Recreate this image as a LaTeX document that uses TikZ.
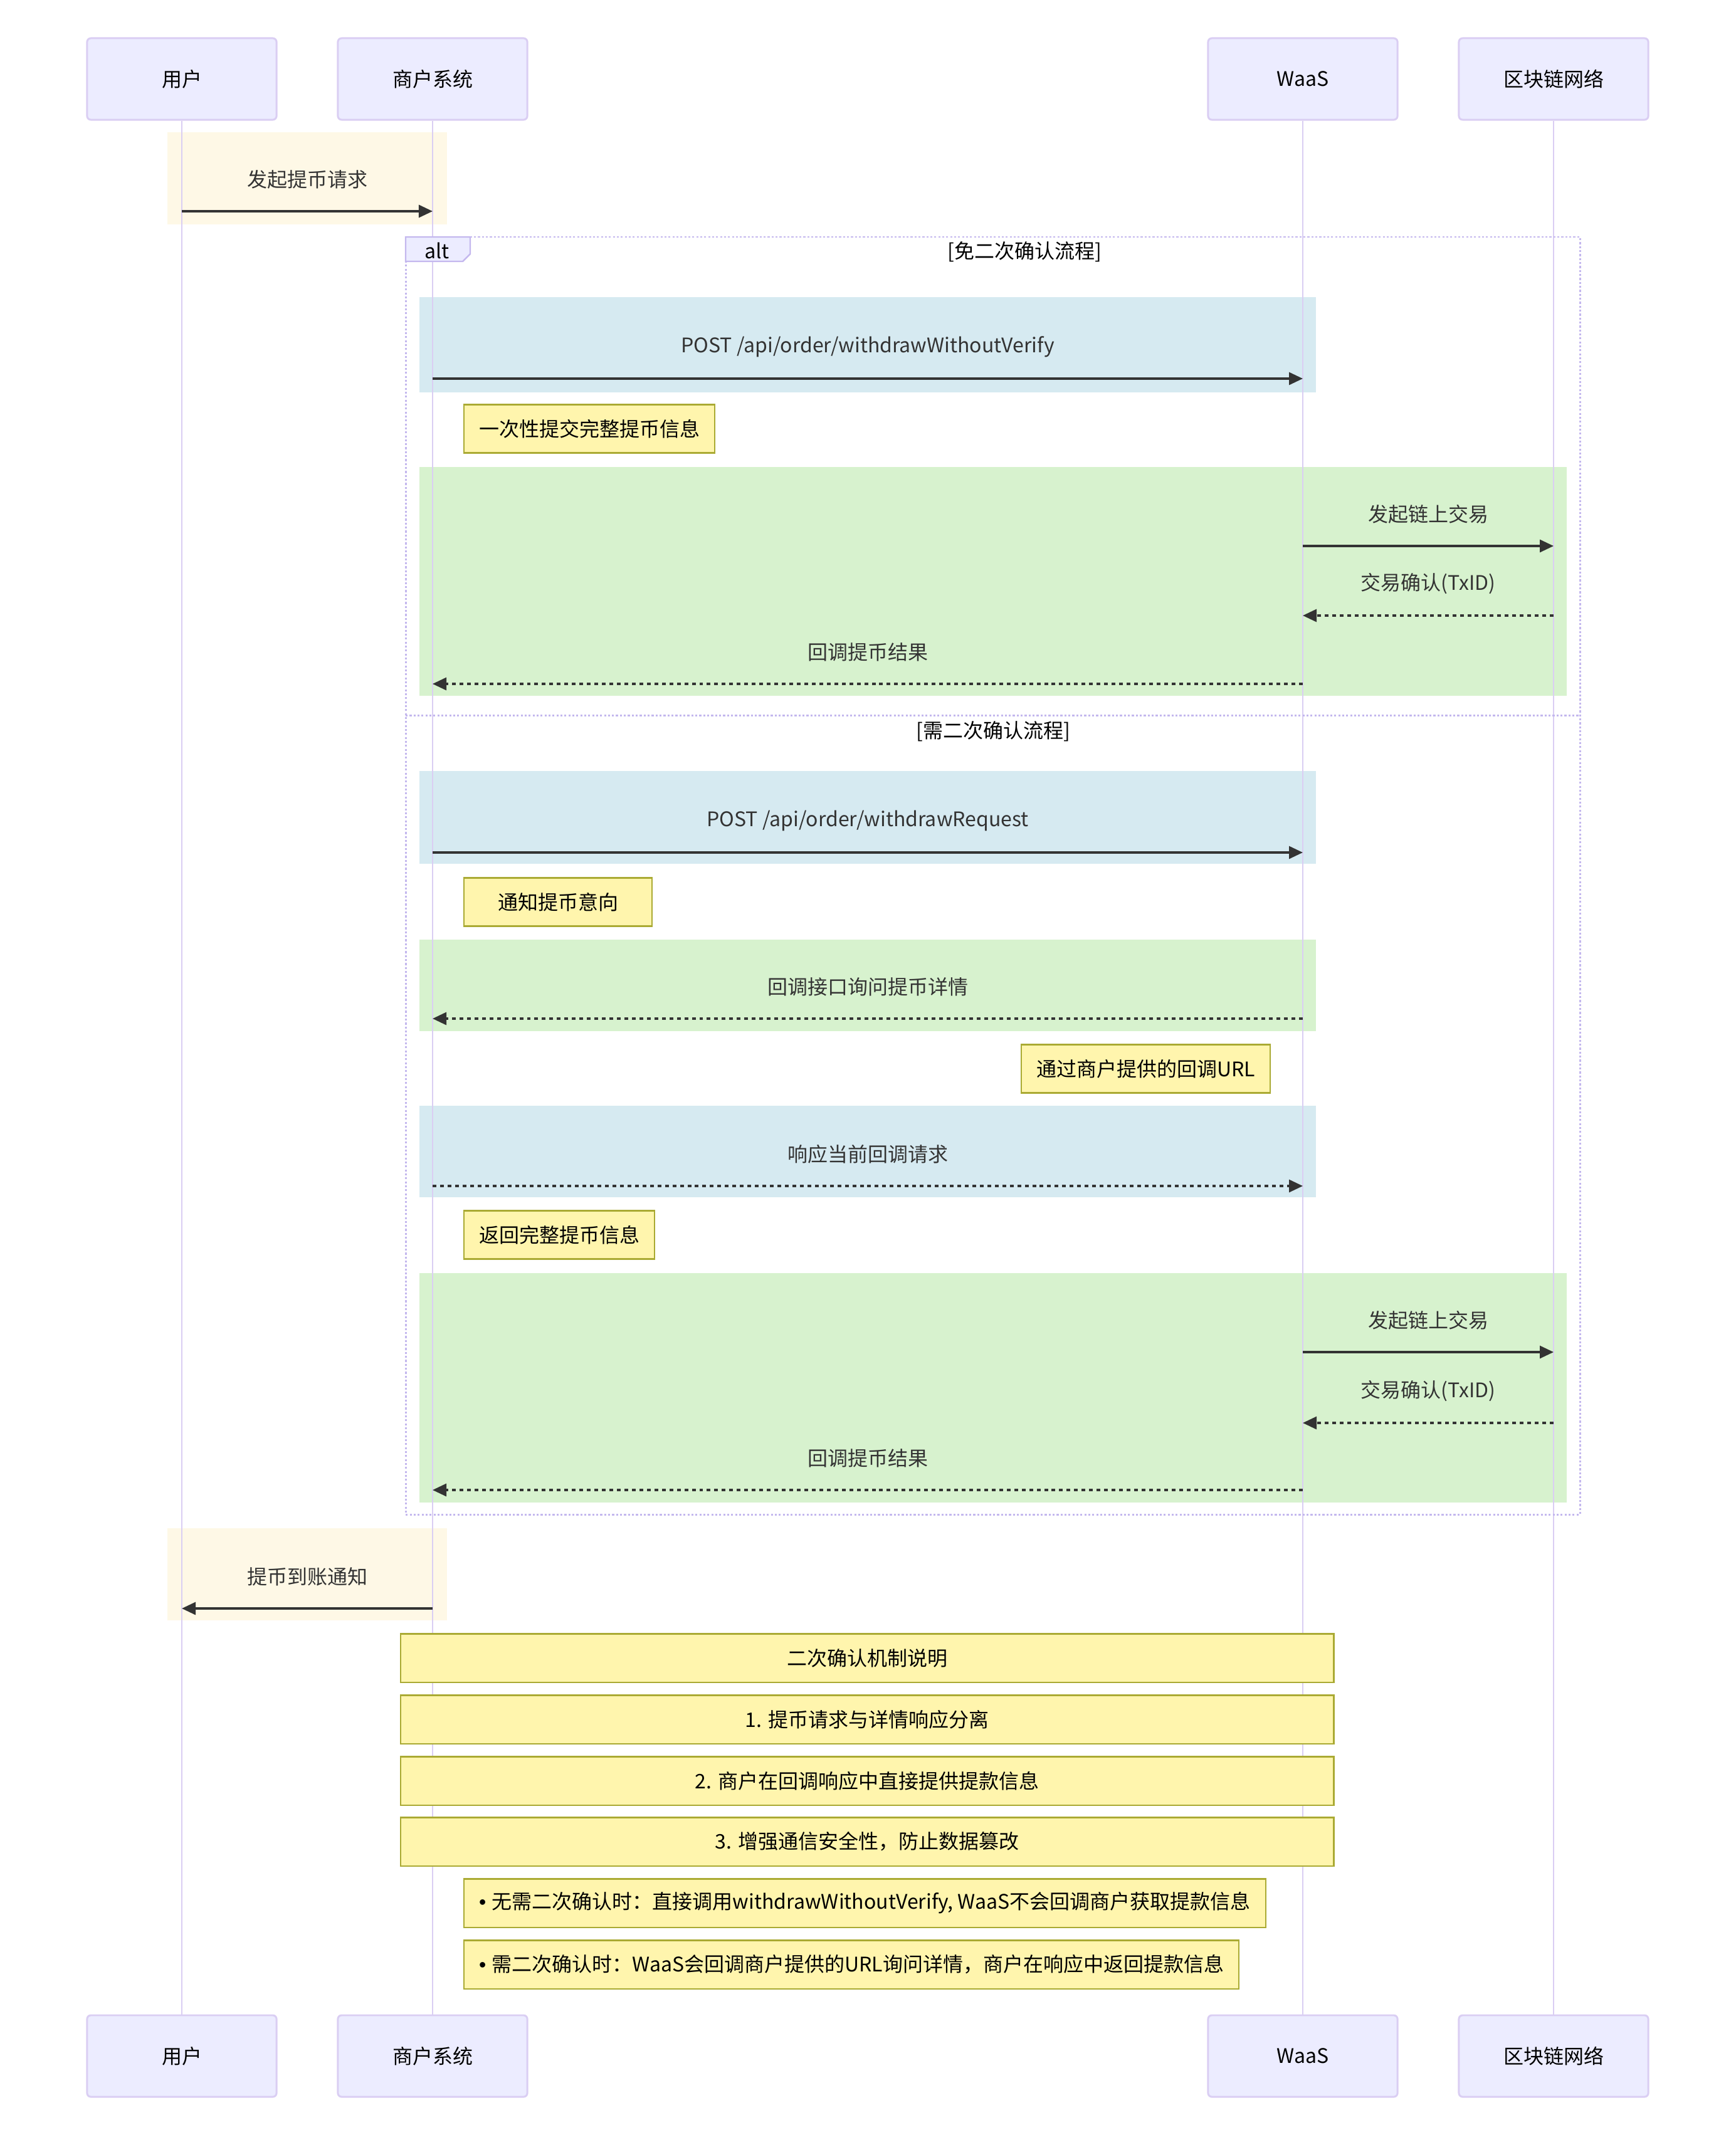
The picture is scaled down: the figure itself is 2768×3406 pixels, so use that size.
\documentclass[tikz,border=0pt]{standalone}
\usepackage{fontspec}
\setmainfont{Noto Sans CJK SC}
\newfontfamily\bulletfont{Liberation Sans}
\usetikzlibrary{arrows.meta,calc}

\definecolor{actfill}{HTML}{ECECFF}
\definecolor{actline}{HTML}{DACEF3}
\definecolor{frameline}{HTML}{C4B8EE}
\definecolor{notefill}{HTML}{FFF5AD}
\definecolor{noteline}{HTML}{AAAA33}
\definecolor{msgline}{HTML}{333333}
\definecolor{beigebg}{RGB}{254,248,230}
\definecolor{bluebg}{RGB}{214,234,241}
\definecolor{greenbg}{RGB}{215,242,206}

\begin{document}
\begin{tikzpicture}[x=0.01cm, y=-0.01cm, >={Triangle[length=0.22cm,width=0.2cm]},
    font=\fontsize{9.1pt}{11pt}\selectfont,
    actor/.style={draw=actline, fill=actfill, line width=0.85pt, rounded corners=0.06cm,
        minimum width=3.02cm, minimum height=1.3cm},
    life/.style={actline, line width=0.75pt},
    msg/.style={->, msgline, line width=0.9pt},
    reply/.style={msg, dash pattern=on 1.7pt off 1.7pt},
    lbl/.style={midway, yshift=0.51cm, text=msgline},
    note/.style={draw=noteline, fill=notefill, line width=0.6pt, minimum height=0.77cm,
        minimum width=3cm, inner xsep=0.24cm},
    widenote/.style={note, minimum width=14.88cm},
    frame/.style={frameline, line width=0.85pt, dash pattern=on 0.9pt off 0.9pt}]
    \useasboundingbox (0,0) rectangle (2768,3406);

    % background blocks
    \fill[beigebg] (267,211) rectangle (713,358);
    \fill[bluebg] (669,474) rectangle (2099,626);
    \fill[greenbg] (669,745) rectangle (2499,1110);
    \fill[bluebg] (669,1230) rectangle (2099,1378);
    \fill[greenbg] (669,1499) rectangle (2099,1645);
    \fill[bluebg] (669,1764) rectangle (2099,1910);
    \fill[greenbg] (669,2031) rectangle (2499,2397);
    \fill[beigebg] (267,2438) rectangle (713,2585);

    % participants
    \foreach \n/\x/\t in {user/290/用户, merchant/690/商户系统, waas/2078/WaaS, chain/2478/区块链网络} {
        \node[actor] (\n) at (\x,126) {\t};
        \node[actor] (\n2) at (\x,3280) {\t};
        \draw[life] (\n) -- (\n2);
    }

    % message levels
    \coordinate (m1) at (0,337);
    \coordinate (m2) at (0,604);
    \coordinate (m3) at (0,871);
    \coordinate (m4) at (0,982);
    \coordinate (m5) at (0,1091);
    \coordinate (m6) at (0,1360);
    \coordinate (m7) at (0,1625);
    \coordinate (m8) at (0,1892);
    \coordinate (m9) at (0,2157);
    \coordinate (m10) at (0,2270);
    \coordinate (m11) at (0,2377);
    \coordinate (m12) at (0,2566);

    % alt frame
    \draw[frame] (647,378) rectangle (2520,2416);
    \draw[frame] (647,1141) -- (2520,1141);
    \draw[frameline, fill=actfill, line width=0.7pt]
        (647,378) -- (750,378) -- (750,405) -- (738,417) -- (647,417) -- cycle;
    \node (alt) at (697,400) {alt};
    \node (cond1) at (1634,402) {[免二次确认流程]};
    \node (cond2) at (1584,1167) {[需二次确认流程]};

    \draw[msg] (user |- m1) -- (merchant |- m1) node[lbl] {发起提币请求};
    \draw[msg] (merchant |- m2) -- (waas |- m2) node[lbl] {POST /api/order/withdrawWithoutVerify};
    \node[note, anchor=west] (n1) at (739,684) {一次性提交完整提币信息};
    \draw[msg] (waas |- m3) -- (chain |- m3) node[lbl] {发起链上交易};
    \draw[reply] (chain |- m4) -- (waas |- m4) node[lbl] {交易确认(TxID)};
    \draw[reply] (waas |- m5) -- (merchant |- m5) node[lbl] {回调提币结果};

    \draw[msg] (merchant |- m6) -- (waas |- m6) node[lbl] {POST /api/order/withdrawRequest};
    \node[note, anchor=west] (n2) at (739,1439) {通知提币意向};
    \draw[reply] (waas |- m7) -- (merchant |- m7) node[lbl] {回调接口询问提币详情};
    \node[note, anchor=east] (n3) at (2027,1705) {通过商户提供的回调URL};
    \draw[reply] (merchant |- m8) -- (waas |- m8) node[lbl] {响应当前回调请求};
    \node[note, anchor=west] (n4) at (739,1970) {返回完整提币信息};
    \draw[msg] (waas |- m9) -- (chain |- m9) node[lbl] {发起链上交易};
    \draw[reply] (chain |- m10) -- (waas |- m10) node[lbl] {交易确认(TxID)};
    \draw[reply] (waas |- m11) -- (merchant |- m11) node[lbl] {回调提币结果};

    \draw[msg] (merchant |- m12) -- (user |- m12) node[lbl] {提币到账通知};

    % summary notes
    \node[widenote] (s0) at (1383,2645) {二次确认机制说明};
    \node[widenote] (s1) at (1383,2743) {1. 提币请求与详情响应分离};
    \node[widenote] (s2) at (1383,2841) {2. 商户在回调响应中直接提供提款信息};
    \node[widenote] (s3) at (1383,2938) {3. 增强通信安全性，防止数据篡改};
    \node[note, anchor=west] (s4) at (739,3036) {{\bulletfont •}\hspace{0.3em}无需二次确认时：直接调用withdrawWithoutVerify, WaaS不会回调商户获取提款信息};
    \node[note, anchor=west] (s5) at (739,3134) {{\bulletfont •}\hspace{0.3em}需二次确认时：WaaS会回调商户提供的URL询问详情，商户在响应中返回提款信息};
\end{tikzpicture}
\end{document}
